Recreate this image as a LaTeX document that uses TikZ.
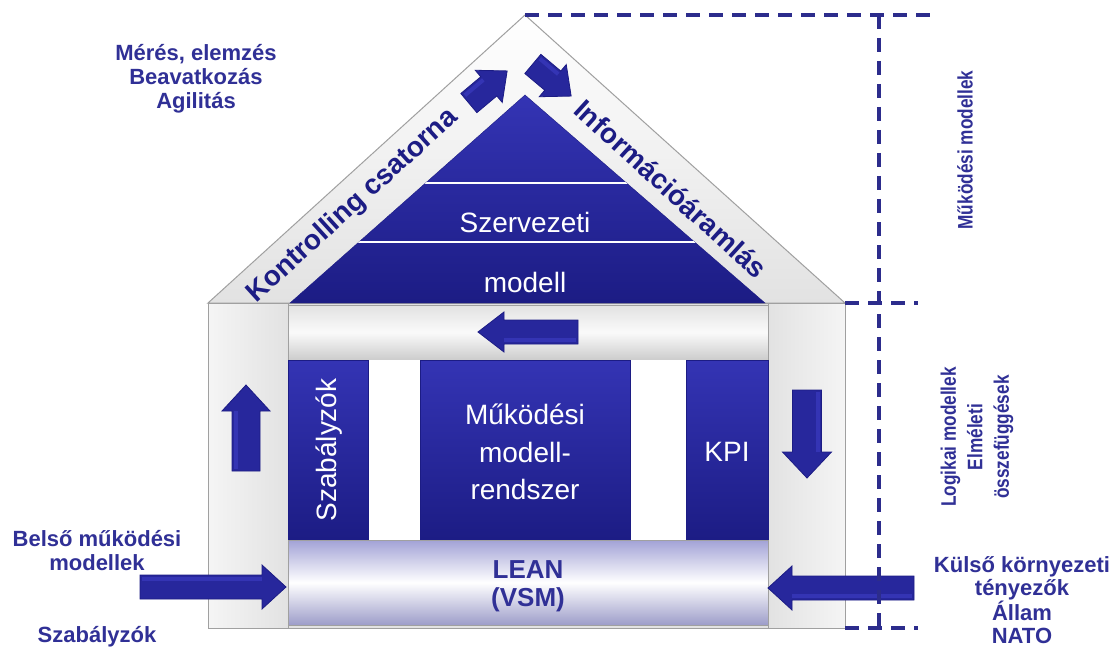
\documentclass[tikz,border=0pt]{standalone}
\usepackage{fontspec}
\setmainfont{Liberation Sans}
\newfontfamily\narrowfont[FakeStretch=0.82]{Liberation Sans}
\definecolor{navy}{HTML}{27279C}
\definecolor{navyd}{HTML}{1C1C84}
\definecolor{navyl}{HTML}{3434B4}
\definecolor{txtblue}{HTML}{303096}
\definecolor{dashblue}{HTML}{2C2C8C}
\definecolor{framec}{HTML}{A0A0A0}
\definecolor{lgray}{HTML}{E2E2E2}
\definecolor{lav}{HTML}{A2A2D6}
\tikzset{
  lbl/.style={text=txtblue, font=\bfseries\fontsize{22}{24}\selectfont, align=center, inner sep=0pt},
  rlbl/.style={text=txtblue, font=\narrowfont\bfseries\fontsize{21}{26.5}\selectfont, align=center, inner sep=0pt, rotate=90},
  inner/.style={text=white, font=\fontsize{28}{37.5}\selectfont, align=center, inner sep=0pt},
  rooftxt/.style={text=navyd, font=\bfseries\fontsize{28}{30}\selectfont, inner sep=0pt},
  bluepanel/.style={top color=navyl, bottom color=navyd, draw=navyd, line width=0.6pt},
  graypanel/.style={draw=framec, line width=1pt},
  dashline/.style={draw=dashblue, line width=3.5pt, dash pattern=on 14pt off 9pt},
  pics/barrow/.style n args={4}{code={
    \fill[navy, draw=navyd, line width=0.8pt]
      ({-#1/2},{-#2/2}) -- ({#1/2-#4},{-#2/2}) -- ({#1/2-#4},{-#3/2}) -- ({#1/2},0)
      -- ({#1/2-#4},{#3/2}) -- ({#1/2-#4},{#2/2}) -- ({-#1/2},{#2/2}) -- cycle;
    \fill[navyl] ({-#1/2+2},{-#2/2+2}) -- ({#1/2-#4},{-#2/2+2}) -- ({#1/2-#4},{-#2/2+6}) -- ({-#1/2+2},{-#2/2+6}) -- cycle;
  }}
}
\begin{document}
\begin{tikzpicture}[x=1pt,y=-1pt]
\useasboundingbox (0,0) rectangle (1120,650);
\fill[white] (0,0) rectangle (1120,650);

% roof
\shade[top color=white, bottom color=lgray, draw=framec, line width=1pt]
  (208,303) -- (525,15) -- (845,303) -- cycle;

% building frame
\draw[graypanel, fill=lgray] (208,303) rectangle (845,628);
\shade[graypanel, left color=white!92!gray, right color=lgray] (208,303) rectangle (288,628);
\shade[graypanel, left color=lgray, right color=white!92!gray] (768,303) rectangle (845,628);
\shade[graypanel, top color=lgray, bottom color=black!20, middle color=white!96!gray] (288,305) rectangle (768,360);
\fill[white] (288,360) rectangle (768,540);

% blue pillars
\shade[bluepanel] (288,360) rectangle (368,540);
\shade[bluepanel] (420,360) rectangle (630,540);
\shade[bluepanel] (686,360) rectangle (768,540);
\node[inner, rotate=90] (szab) at (329,450) {Szabályzók};
\node[inner] (mukodes) at (525,452) {Működési\\modell-\\rendszer};
\node[inner] (kpi) at (727,452) {KPI};

% LEAN band
\shade[draw=framec, line width=1pt, top color=lav, bottom color=lav!85!gray, middle color=white] (288,540) rectangle (768,625);
\node[text=txtblue, font=\bfseries\fontsize{26}{28}\selectfont, align=center, inner sep=0pt] (lean) at (528,586) {LEAN\\(VSM)};

% inner pyramid
\shade[top color=navyl, bottom color=navyd, draw=navyd] (290,303) -- (525,95) -- (765,303) -- cycle;
\begin{scope}
  \clip (290,303) -- (525,95) -- (765,303) -- cycle;
  \draw[white, line width=2.5pt] (300,183) -- (750,183);
  \draw[white, line width=2.5pt] (300,242) -- (750,242);
\end{scope}
\node[inner] (szerv) at (525,222) {Szervezeti};
\node[inner] (modell) at (525,282) {modell};

% roof texts
\node[rooftxt, rotate=42.3] (kontr) at (353,206) {Kontrolling csatorna};
\node[rooftxt, rotate=-42.3] (info) at (671,189) {Információáramlás};

% block arrows
\pic[rotate=40] (a1) at (488,87) {barrow={50}{25}{42}{24}};
\pic[rotate=-40] (a2) at (552,80) {barrow={50}{25}{42}{24}};
\pic[rotate=180] (a3) at (528,332) {barrow={100}{24}{40}{26}};
\pic[rotate=90] (a4) at (246,428) {barrow={86}{28}{48}{26}};
\pic[rotate=-90] (a5) at (807,434) {barrow={88}{29}{49}{26}};
\pic (a6) at (213,587) {barrow={146}{24}{44}{24}};
\pic[rotate=180] (a7) at (841,588) {barrow={146}{24}{44}{24}};

% dashed brackets
\coordinate (dA) at (525,15);
\coordinate (dB) at (930,15);
\coordinate (vT) at (879,15);
\coordinate (vB) at (879,628);
\coordinate (mA) at (845,303);
\coordinate (mB) at (918,303);
\coordinate (bA) at (845,628);
\coordinate (bB) at (918,628);
\draw[dashline] (dA) -- (dB);
\draw[dashline] (vT) -- (vB);
\draw[dashline] (mA) -- (mB);
\draw[dashline] (bA) -- (bB);

% outside labels
\node[lbl] (meres) at (196,79) {Mérés, elemzés\\Beavatkozás\\Agilitás};
\node[lbl] (belso) at (97,551) {Belső működési\\modellek};
\node[lbl] (szabl) at (97,637) {Szabályzók};
\node[lbl, font=\bfseries\fontsize{22}{23.3}\selectfont] (kulso) at (1022,600) {Külső környezeti\\tényezők\\Állam\\NATO};
\node[rlbl] (mukm) at (965,150) {Működési modellek};
\node[rlbl] (logm) at (977,437) {Logikai modellek\\Elméleti\\összefüggések};
\end{tikzpicture}
\end{document}
